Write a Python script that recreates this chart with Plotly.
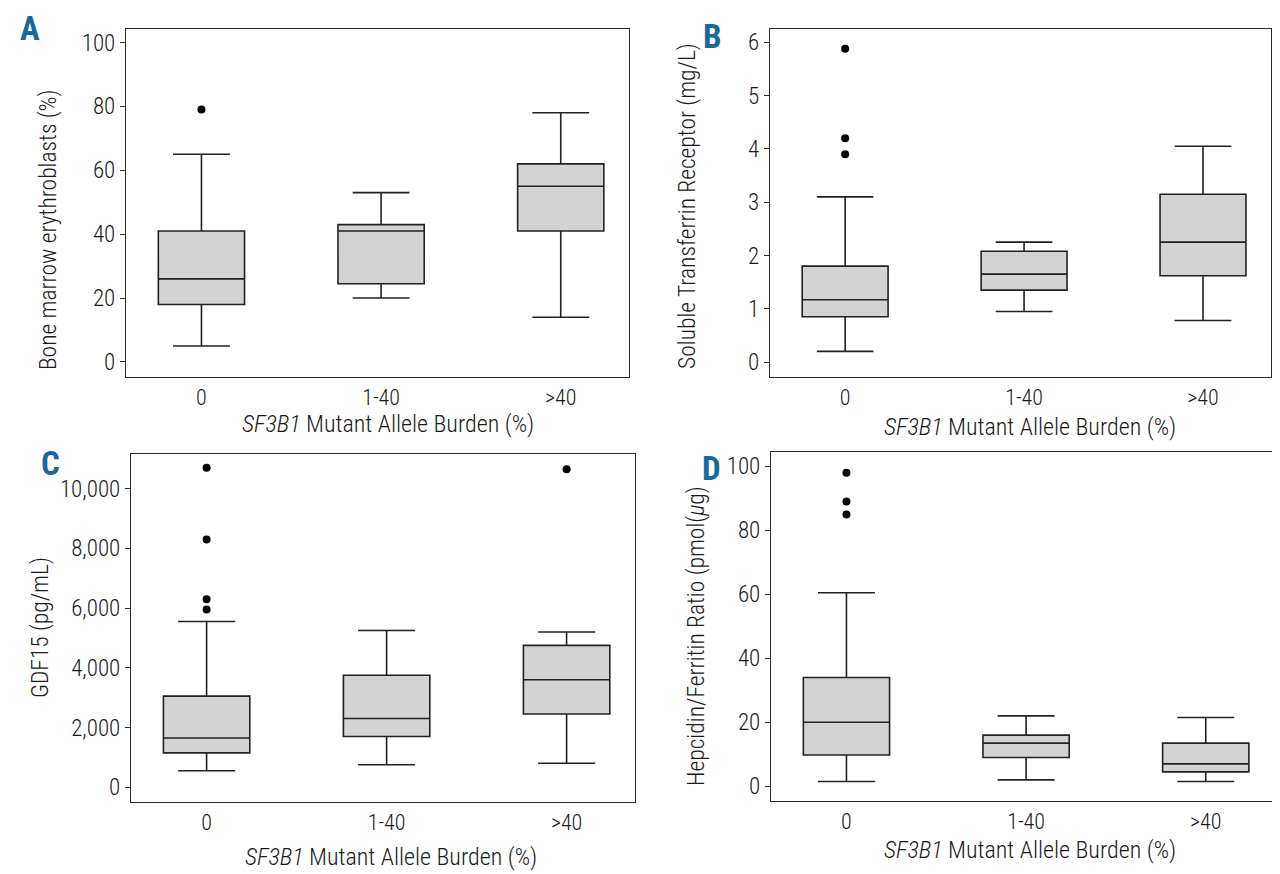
import plotly.graph_objects as go

categories = ["0", "1-40", ">40"]

# Panel A: Bone marrow erythroblasts (%)
a_low = [5, 20, 14]
a_q1 = [18, 24.5, 41]
a_med = [26, 41, 55]
a_q3 = [41, 43, 62]
a_high = [65, 53, 78]
a_out_cat = ["0"]
a_out_val = [79]

# Panel B: Soluble Transferrin Receptor (mg/L)
b_low = [0.2, 0.95, 0.78]
b_q1 = [0.85, 1.35, 1.62]
b_med = [1.17, 1.65, 2.25]
b_q3 = [1.8, 2.08, 3.15]
b_high = [3.1, 2.25, 4.05]
b_out_cat = ["0", "0", "0"]
b_out_val = [3.9, 4.2, 5.88]

# Panel C: GDF15 (pg/mL)
c_low = [550, 750, 800]
c_q1 = [1150, 1700, 2450]
c_med = [1650, 2300, 3600]
c_q3 = [3050, 3750, 4750]
c_high = [5550, 5250, 5200]
c_out_cat = ["0", "0", "0", "0", ">40"]
c_out_val = [5950, 6300, 8300, 10700, 10650]

# Panel D: Hepcidin/Ferritin Ratio
d_low = [1.5, 2, 1.5]
d_q1 = [9.8, 9, 4.5]
d_med = [20, 13.5, 7]
d_q3 = [34, 16, 13.5]
d_high = [60.5, 22, 21.5]
d_out_cat = ["0", "0", "0"]
d_out_val = [85, 89, 98]

W, H = 1280, 874
FONT = "Roboto Condensed, Liberation Sans Narrow, DejaVu Sans Condensed, sans-serif"
BLUE = "#17699a"
TXT = "#1a1a1a"

panels = [
    dict(k="", low=a_low, q1=a_q1, med=a_med, q3=a_q3, high=a_high, oc=a_out_cat, ov=a_out_val,
         px=(118, 621), py=(20.7, 369), yr=(-4.7, 104.3), tv=[0, 20, 40, 60, 80, 100], tt=None,
         ytitle="Bone marrow erythroblasts (%)", ytx=40, yty=222, xtx=380, xty=416,
         lab="A", lx=22, ly=20),
    dict(k="2", low=b_low, q1=b_q1, med=b_med, q3=b_q3, high=b_high, oc=b_out_cat, ov=b_out_val,
         px=(762, 1263), py=(20.7, 369), yr=(-0.28, 6.255), tv=[0, 1, 2, 3, 4, 5, 6], tt=None,
         ytitle="Soluble Transferrin Receptor (mg/L)", ytx=679, yty=198, xtx=1022, xty=419,
         lab="B", lx=704, ly=28),
    dict(k="3", low=c_low, q1=c_q1, med=c_med, q3=c_q3, high=c_high, oc=c_out_cat, ov=c_out_val,
         px=(123, 627), py=(445.7, 794), yr=(-496, 11172), tv=[0, 2000, 4000, 6000, 8000, 10000],
         tt=["0", "2,000", "4,000", "6,000", "8,000", "10,000"],
         ytitle="GDF15 (pg/mL)", ytx=32, yty=620, xtx=383, xty=849,
         lab="C", lx=42, ly=455),
    dict(k="4", low=d_low, q1=d_q1, med=d_med, q3=d_q3, high=d_high, oc=d_out_cat, ov=d_out_val,
         px=(763, 1266), py=(444, 793), yr=(-4.6, 104.5), tv=[0, 20, 40, 60, 80, 100], tt=None,
         ytitle="Hepcidin/Ferritin Ratio (pmol(<i>μ</i>g)", ytx=688, yty=628, xtx=1022, xty=842,
         lab="D", lx=703, ly=460),
]

fig = go.Figure()
annotations = []
layout = {}
for p in panels:
    k = p["k"]
    xa = "x" + k
    ya = "y" + k
    fig.add_trace(go.Box(
        x=categories, q1=p["q1"], median=p["med"], q3=p["q3"],
        lowerfence=p["low"], upperfence=p["high"],
        boxpoints=False, width=0.48, whiskerwidth=0.66,
        fillcolor="#d3d3d3", line=dict(color="#222222", width=1.6),
        xaxis=xa, yaxis=ya, showlegend=False, hoverinfo="skip",
    ))
    fig.add_trace(go.Scatter(
        x=p["oc"], y=p["ov"], mode="markers",
        marker=dict(color="black", size=8),
        xaxis=xa, yaxis=ya, showlegend=False, hoverinfo="skip",
    ))
    x0, x1 = p["px"]
    y0, y1 = p["py"]
    layout["xaxis" + k] = dict(
        domain=[x0 / W, x1 / W], anchor=ya, type="category",
        categoryorder="array", categoryarray=categories,
        range=[-0.42, 2.38], showline=True, mirror=True, linecolor="#2a2a2a", linewidth=1.2,
        ticks="", showgrid=False, zeroline=False,
        tickfont=dict(family=FONT, size=22, color=TXT, weight=300),
    )
    yax = dict(
        domain=[1 - y1 / H, 1 - y0 / H], anchor=xa,
        range=list(p["yr"]), tickvals=p["tv"],
        showline=True, mirror=True, linecolor="#2a2a2a", linewidth=1.2,
        ticks="outside", ticklen=5, tickcolor="#2a2a2a",
        showgrid=False, zeroline=False,
        tickfont=dict(family=FONT, size=23, color=TXT, weight=300),
    )
    if p["tt"]:
        yax["ticktext"] = p["tt"]
    layout["yaxis" + k] = yax
    annotations.append(dict(
        text=p["ytitle"], x=p["ytx"] / W, y=1 - p["yty"] / H, xref="paper", yref="paper",
        textangle=-90, showarrow=False, xanchor="center", yanchor="middle",
        font=dict(family=FONT, size=23.5, color=TXT, weight=300),
    ))
    annotations.append(dict(
        text="<i>SF3B1</i> Mutant Allele Burden (%)", x=p["xtx"] / W, y=1 - p["xty"] / H,
        xref="paper", yref="paper", showarrow=False, xanchor="center", yanchor="middle",
        font=dict(family=FONT, size=24, color=TXT, weight=300),
    ))
    annotations.append(dict(
        text="<b>" + p["lab"] + "</b>", x=p["lx"] / W, y=1 - p["ly"] / H,
        xref="paper", yref="paper", showarrow=False, xanchor="center", yanchor="middle",
        font=dict(family=FONT, size=33, color=BLUE),
    ))

fig.update_layout(
    width=W, height=H, margin=dict(l=0, r=0, t=0, b=0),
    paper_bgcolor="white", plot_bgcolor="white",
    annotations=annotations, **layout,
)
fig.write_html("out.html")
